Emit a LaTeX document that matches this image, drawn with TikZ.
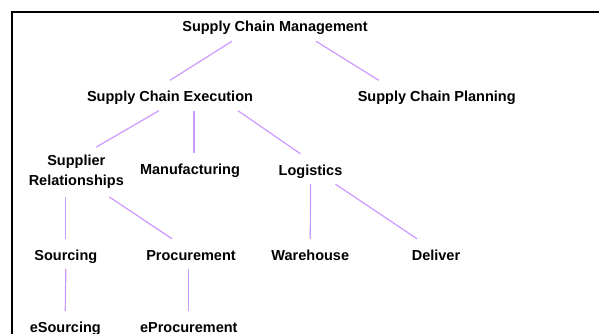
\documentclass[tikz,border=0pt]{standalone}
\usepackage{fontspec}
\setmainfont{Liberation Sans}
\usetikzlibrary{positioning}
\definecolor{linkpurple}{RGB}{204,153,255}

\begin{document}
\begin{tikzpicture}[
    x=1pt, y=-1pt,
    lbl/.style={font=\bfseries\fontsize{14.5}{20}\selectfont, anchor=base,
                text height=15pt, text depth=3pt, inner xsep=0pt, inner ysep=6pt},
    lbltwo/.style={font=\bfseries\fontsize{14.5}{20}\selectfont, align=center,
                   inner xsep=0pt, inner ysep=8pt},
    link/.style={draw=linkpurple, line width=1.2pt},
    frame/.style={draw=black, line width=2pt}
]

    \useasboundingbox (0,0) rectangle (599,334);
    \draw [frame] (12,360) |- (640,12);

    \node (scm) [lbl] at (275,32) {Supply Chain Management};
    \node (sce) [lbl] at (170,101.5) {Supply Chain Execution};
    \node (scp) [lbl] at (436.7,101.5) {Supply Chain Planning};
    \node (suprel) [lbltwo] at (76.3,172) {Supplier\\Relationships};
    \node (manu) [lbl] at (190,174.5) {Manufacturing};
    \node (logi) [lbl] at (310.5,175) {Logistics};
    \node (src) [lbl] at (65.8,260) {Sourcing};
    \node (proc) [lbl] at (191,260) {Procurement};
    \node (ware) [lbl] at (310.3,260) {Warehouse};
    \node (deli) [lbl] at (436,260) {Deliver};
    \node (esrc) [lbl] at (65.3,332) {eSourcing};
    \node (eproc) [lbl] at (188.8,332) {eProcurement};

    \draw [link] ([xshift=-43pt]scm.south) -- (sce.north);
    \draw [link] ([xshift=41pt]scm.south) -- ([xshift=-58pt]scp.north);
    \draw [link] ([xshift=-11pt]sce.south) -- ([xshift=20pt]suprel.north);
    \draw [link] (sce.south -| manu.north) ++(4pt,0) -- ([xshift=4pt]manu.north);
    \draw [link] ([xshift=68pt]sce.south) -- ([xshift=-10pt]logi.north);
    \draw [link] (suprel.south -| src.north) -- (src.north);
    \draw [link] ([xshift=33pt]suprel.south) -- ([xshift=-19pt]proc.north);
    \draw [link] (logi.south) -- (ware.north);
    \draw [link] ([xshift=25pt]logi.south) -- ([xshift=-19pt]deli.north);
    \draw [link] (src.south) -- (esrc.north);
    \draw [link] (proc.south -| eproc.north) -- (eproc.north);

\end{tikzpicture}
\end{document}
